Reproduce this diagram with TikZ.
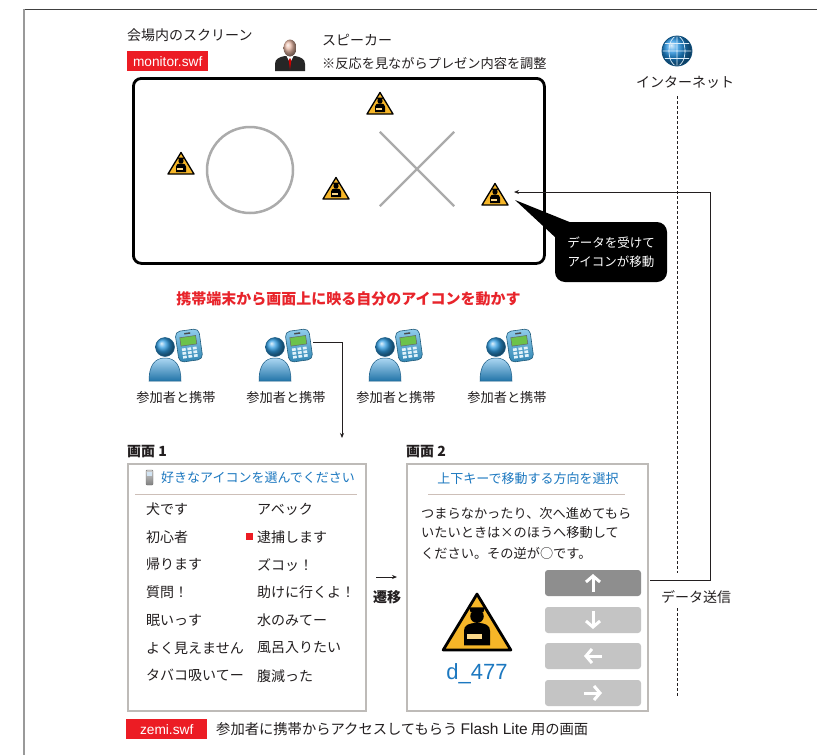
\documentclass[tikz,border=0pt]{standalone}
\usepackage{fontspec}
\setmainfont{Noto Sans CJK JP}
\newfontfamily\latinsans{Liberation Sans}
\usetikzlibrary{arrows.meta,calc}
\newcommand\fsz[1]{\fontsize{#1}{#1}\selectfont}

\definecolor{swfred}{HTML}{EC1C24}
\definecolor{headred}{HTML}{E8242B}
\definecolor{uiblue}{HTML}{1C78C0}
\definecolor{ink}{HTML}{231F20}
\definecolor{signyellow}{HTML}{F6B628}
\definecolor{markgray}{HTML}{ABABAB}
\definecolor{panelgray}{HTML}{BEBBB8}
\definecolor{rulegray}{HTML}{CDBFB8}
\definecolor{btndark}{HTML}{8E8E8E}
\definecolor{btnlight}{HTML}{C4C4C4}
\definecolor{userblue}{HTML}{2E9BE0}
\definecolor{phoneblue}{HTML}{3AA6DF}
\definecolor{lcdgreen}{HTML}{6CC24A}
\definecolor{skin}{HTML}{E9B9A6}
\definecolor{globeblue}{HTML}{1E8FE0}

\tikzset{
  txt/.style={inner sep=0, text=ink, font=\fsz{14}},
  small/.style={inner sep=0, text=ink, font=\fsz{13.2}},
  title/.style={inner sep=0, text=ink, font=\bfseries\fsz{14}},
  tag/.style={fill=swfred, text=white, inner sep=0, minimum width=81,
    minimum height=20, anchor=north west, font=\latinsans\fsz{13.7}},
  panel/.style={draw=panelgray, line width=2, fill=white, inner sep=0, anchor=north west},
  uihead/.style={inner sep=0, text=uiblue, font=\fsz{13}},
  btn/.style={fill=#1, rounded corners=3, minimum width=96, minimum height=26, inner sep=0},
  btnarrow/.style={white, line width=3, -{Straight Barb[length=6, width=14]}},
  conn/.style={draw=ink, line width=0.9, -{Stealth[length=5, width=4]}},
  holder/.style={inner sep=0, minimum width=#1, minimum height=#1},
  netline/.style={draw=ink, line width=0.8, dash pattern=on 3pt off 2pt},
  % yellow warning sign with a small figure
  warn/.pic={
    \filldraw[fill=signyellow, draw=black, line join=round, line width=#1]
      (0,-11.5) -- (13,10) -- (-13,10) -- cycle;
    \fill[black] (0,-3) circle[radius=2.6];
    \fill[black] (-3,-6.4) -- (3,-6.4) -- (2.5,-4.6) -- (-2.5,-4.6) -- cycle;
    \fill[black] (-5,8.2) -- (-5,2.6) .. controls (-5,0.6) and (-3.5,-0.4) .. (0,-0.4)
      .. controls (3.5,-0.4) and (5,0.6) .. (5,2.6) -- (5,8.2) -- cycle;
    \fill[signyellow!55!white] (-4,4) rectangle (2,5.6);
  },
  % participant with a mobile phone
  user/.pic={
    \begin{scope}[rotate around={8:(13,-11)}]
      \shadedraw[top color=phoneblue!55!white, bottom color=phoneblue!80!black,
        draw=phoneblue!55!black, line width=0.6, rounded corners=5] (1,-27) rectangle (25,4);
      \fill[black!70] (10,-24.5) rectangle (16,-23);
      \filldraw[fill=lcdgreen, draw=black!60, line width=0.5] (5,-20.5) rectangle (21,-12);
      \foreach \i in {0,1,2} \foreach \j in {0,1,2}
        \fill[white!85!phoneblue] ({5.5+\i*5.5},{-9.5+\j*3.8}) rectangle ++(3.8,2.6);
    \end{scope}
    \shadedraw[top color=userblue!40!white, bottom color=userblue!75!black,
      draw=userblue!60!black, line width=0.5]
      (-27,24) .. controls (-27,8) and (-21,1) .. (-11,1)
      .. controls (-1,1) and (5,8) .. (5,24) -- cycle;
    \shadedraw[ball color=userblue, draw=userblue!60!black, line width=0.5]
      (-11,-10) circle[radius=9.5];
  },
  % speaker in a dark suit
  speaker/.pic={
    \fill[black!85] (-15,17) -- (-15,10) .. controls (-15,5) and (-11,3) .. (-5,2)
      -- (5,2) .. controls (11,3) and (15,5) .. (15,10) -- (15,17) -- cycle;
    \fill[white] (-3.5,2) -- (0,9) -- (3.5,2) -- cycle;
    \fill[red!80!black] (0,4) -- (-1.3,6.5) -- (0,16) -- (1.3,6.5) -- cycle;
    \shade[ball color=skin] (0,-6) ellipse[x radius=6.5, y radius=8.5];
  }
}

\begin{document}
\begin{tikzpicture}[x=1pt,y=-1pt]
\useasboundingbox (0,0) rectangle (817,755);
\fill[white] (0,0) rectangle (817,755);

% page rules
\draw[black!75, line width=1] (23,9) -- (817,9);
\draw[black!40, line width=1.6] (24,9) -- (24,755);

% ---------- venue screen ----------
\node[txt, anchor=west] (venue) at (127,35) {会場内のスクリーン};
\node[tag] (mon) at (127,51) {monitor.swf};

\node[holder=32] (spk) at (290,54) {};
\pic at (spk) {speaker};
\node[txt, anchor=west] (spkname) at (322,40) {スピーカー};
\node[small, anchor=west] (spknote) at (322,63) {※反応を見ながらプレゼン内容を調整};

\node[draw=black, line width=2.8, rounded corners=8, minimum width=411,
  minimum height=185, inner sep=0, anchor=north west] (screen) at (132,77) {};

\node[circle, draw=markgray, line width=2.5, minimum size=86, inner sep=0] (ring) at (250,170) {};
\node[holder=74] (cross) at (417,169) {};
\draw[markgray, line width=2.2] (cross.north west) -- (cross.south east)
  (cross.north east) -- (cross.south west);

\foreach \n/\x/\y in {1/181/164, 2/380/104, 3/336/189, 4/495/195}{
  \node[holder=26] (w\n) at (\x,\y) {};
  \pic at (w\n) {warn=1.3};
}

% callout
\coordinate (tip) at (515,200);
\fill[black] (tip) -- (572,223) -- (556,238) -- cycle;
\node[fill=black, rounded corners=10, minimum width=112, minimum height=60, inner sep=0,
  text=white, align=center, font=\fontsize{12.5}{19}\selectfont] (note) at (611,252)
  {データを受けて\\アイコンが移動};

% ---------- internet ----------
\node[circle, inner sep=0, minimum size=30] (globe) at (677,51) {};
\shade[ball color=globeblue] (globe.center) circle[radius=15];
\begin{scope}[shift={(globe.center)}]
  \clip (0,0) circle[radius=14.5];
  \draw[white!85!globeblue, line width=0.7] (0,-15) -- (0,15)
    (-15,0) -- (15,0) (-15,-7.5) -- (15,-7.5) (-15,7.5) -- (15,7.5)
    (0,0) ellipse[x radius=8, y radius=15];
\end{scope}
\draw[globeblue!55!black, line width=0.8] (globe.center) circle[radius=15];
\node[txt] (inet) at (685,82) {インターネット};

\node[txt] (send) at (696,597) {データ送信};
\coordinate (dtop) at (677,96);
\coordinate (dmid1) at (677,573);
\coordinate (dmid2) at (677,608);
\coordinate (dbot) at (677,697);
\draw[netline] (dtop) -- (dmid1);
\draw[netline] (dmid2) -- (dbot);

\coordinate (txout) at (650,580);
\coordinate (txup) at (710,580);
\coordinate (txtop) at (710,192);
\coordinate (w4in) at (514,192);
\draw[conn] (txout) -- (txup) -- (txtop) -- (w4in);

% ---------- participants ----------
\node[inner sep=0, text=headred, font=\bfseries\fsz{15}] (lead) at (348.5,299)
  {携帯端末から画面上に映る自分のアイコンを動かす};

\foreach \n/\x in {1/176, 2/286, 3/396, 4/507}{
  \node[holder=52] (p\n) at (\x,357) {};
  \pic at (p\n) {user};
  \node[small] (pl\n) at (\x,398) {参加者と携帯};
}
\coordinate (ph2) at (313,342);
\coordinate (s1in) at (342,438);
\draw[conn] (ph2) -- (s1in |- ph2) -- (s1in);

% ---------- phone screen 1 ----------
\node[title, anchor=west] (t1) at (127,452) {画面 1};
\node[panel, minimum width=238, minimum height=247] (scr1) at (127,463) {};
\node[holder=10] (mini) at (149.5,477.5) {};
\shadedraw[top color=black!20, bottom color=black!50, draw=black!55, line width=0.4,
  rounded corners=1] ($(mini)+(-3.5,-7.5)$) rectangle ($(mini)+(3.5,7.5)$);
\fill[white!80!uiblue] ($(mini)+(-2.3,-6)$) rectangle ($(mini)+(2.3,-2)$);
\node[uihead, anchor=west] (h1) at (161,478) {好きなアイコンを選んでください};
\draw[rulegray, line width=1] (135,494) -- (357,494);

\foreach \i/\a/\b in {0/犬です/アベック, 1/初心者/逮捕します, 2/帰ります/ズコッ！,
  3/質問！/助けに行くよ！, 4/眠いっす/水のみてー, 5/よく見えません/風呂入りたい,
  6/タバコ吸いてー/腹減った}{
  \node[txt, anchor=west] (l\i) at (146,{509+27.8*\i}) {\a};
  \node[txt, anchor=west] (r\i) at (257,{509+27.8*\i}) {\b};
}
\fill[swfred] ($(r1.west)+(-11,-3.5)$) rectangle ($(r1.west)+(-4,3.5)$);

% transition
\coordinate (trA) at (376,577);
\coordinate (trB) at (397,577);
\draw[conn, line width=0.8] (trA) -- (trB);
\node[title] (trans) at (387,597) {遷移};

% ---------- phone screen 2 ----------
\node[title, anchor=west] (t2) at (406,452) {画面 2};
\node[panel, minimum width=241, minimum height=247] (scr2) at (406,463) {};
\node[uihead] (h2) at (528,479) {上下キーで移動する方向を選択};
\draw[rulegray, line width=1] (428,494) -- (625,494);
\node[small, anchor=west] (m1) at (421,513) {つまらなかったり、次へ進めてもら};
\node[small, anchor=west] (m2) at (421,533) {いたいときは×のほうへ移動して};
\node[small, anchor=west] (m3) at (421,553) {ください。その逆が○です。};

\node[holder=66] (big) at (477,624) {};
\pic[scale=2.6] at (big) {warn=2.8};
\node[inner sep=0, text=uiblue, font=\latinsans\fsz{22}] (uid) at (477,674) {d\_477};

\node[btn=btndark] (bup) at (593,583) {};
\node[btn=btnlight] (bdown) at (593,620) {};
\node[btn=btnlight] (bleft) at (593,656) {};
\node[btn=btnlight] (bright) at (593,693) {};
\draw[btnarrow] ($(bup.center)+(0,9)$) -- ($(bup.center)+(0,-9)$);
\draw[btnarrow] ($(bdown.center)+(0,-9)$) -- ($(bdown.center)+(0,9)$);
\draw[btnarrow] ($(bleft.center)+(9,0)$) -- ($(bleft.center)+(-9,0)$);
\draw[btnarrow] ($(bright.center)+(-9,0)$) -- ($(bright.center)+(9,0)$);

% ---------- caption ----------
\node[tag] (zemi) at (126,719) {zemi.swf};
\node[txt, anchor=west, font=\fsz{14.3}] (cap) at (216,729)
  {参加者に携帯からアクセスしてもらう {\latinsans\fsz{15.5}Flash Lite} 用の画面};

\end{tikzpicture}
\end{document}
